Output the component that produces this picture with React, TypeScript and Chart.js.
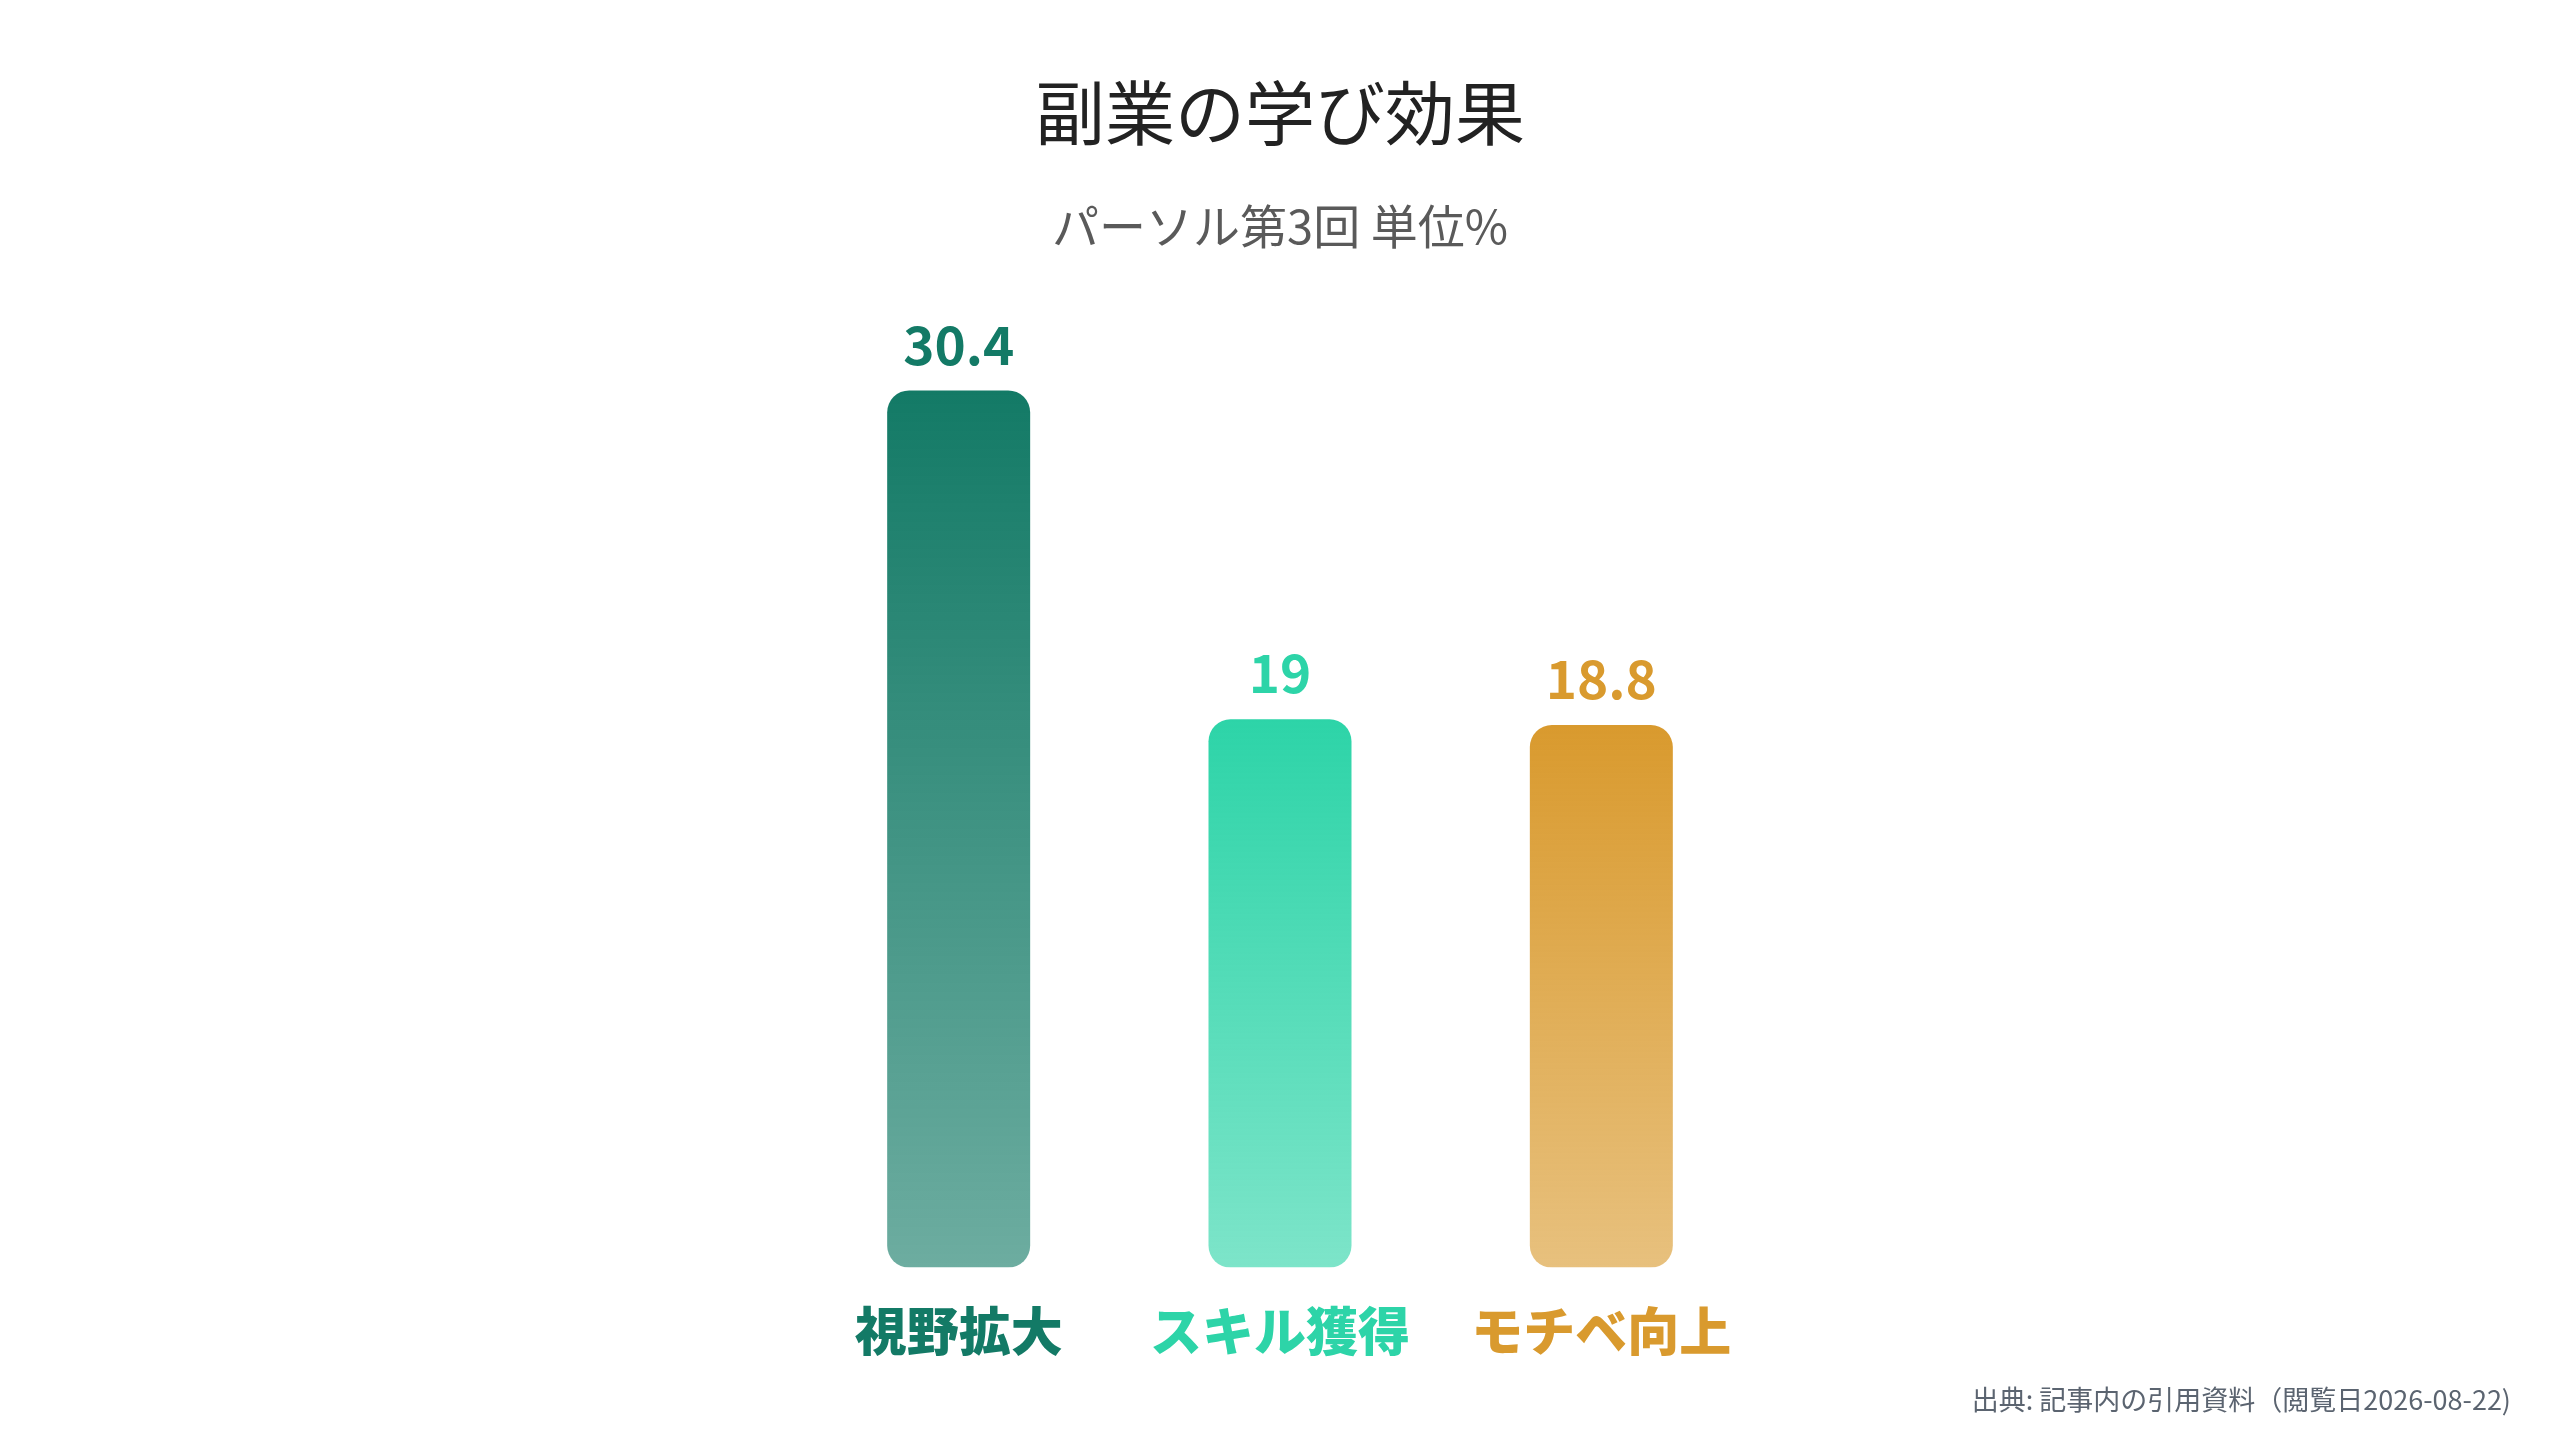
import { useEffect, useRef } from "react";
import { Chart, registerables } from "chart.js";

Chart.register(...registerables);

const categories = ["視野拡大", "スキル獲得", "モチベ向上"];
const values = [30.4, 19, 18.8];
const barColors = ["#137a66", "#2dd4a8", "#d99a2e"];
const sourceText = "出典: 記事内の引用資料（閲覧日2026-08-22)";

const FONT = '"Noto Sans CJK JP", "Noto Sans", sans-serif';

const hexToRgba = (hex: string, a: number) => {
	const n = parseInt(hex.slice(1), 16);
	return `rgba(${(n >> 16) & 255}, ${(n >> 8) & 255}, ${n & 255}, ${a})`;
};

// value labels above bars + source note bottom right
const labelsPlugin = {
	id: "valueLabels",
	afterDatasetsDraw(chart) {
		const { ctx } = chart;
		const meta = chart.getDatasetMeta(0);
		ctx.save();
		ctx.font = `bold 53px ${FONT}`;
		ctx.textAlign = "center";
		ctx.textBaseline = "middle";
		meta.data.forEach((bar, i) => {
			ctx.fillStyle = barColors[i];
			ctx.fillText(String(values[i]), bar.x, bar.y - 46);
		});
		ctx.restore();
	},
	afterDraw(chart) {
		const { ctx } = chart;
		ctx.save();
		ctx.font = `27px ${FONT}`;
		ctx.fillStyle = "#5b6470";
		ctx.textAlign = "right";
		ctx.textBaseline = "middle";
		ctx.fillText(sourceText, chart.width - 49, 1400);
		ctx.restore();
	},
};

const App = (): JSX.Element => {
	const chartRef = useRef<HTMLCanvasElement | null>(null);

	useEffect(() => {
		const ctx2d = chartRef.current.getContext("2d");
		const chart = new Chart(ctx2d, {
			type: "bar",
			data: {
				labels: categories,
				datasets: [
					{
						data: values,
						backgroundColor: (c) => {
							const chart = c.chart;
							const area = chart.chartArea;
							const color = barColors[c.dataIndex] || barColors[0];
							if (!area || c.raw === undefined) return color;
							const y = chart.scales.y;
							const top = y.getPixelForValue(c.raw as number);
							const bottom = y.getPixelForValue(0);
							const g = chart.ctx.createLinearGradient(0, top, 0, bottom);
							g.addColorStop(0, hexToRgba(color, 1));
							g.addColorStop(1, hexToRgba(color, 0.62));
							return g;
						},
						borderRadius: 22,
						borderSkipped: false,
						borderWidth: 0,
						barPercentage: 0.445,
						categoryPercentage: 1,
					},
				],
			},
			options: {
				responsive: true,
				maintainAspectRatio: false,
				animation: false,
				layout: {
					padding: { left: 798, right: 798, top: 0, bottom: 54 },
				},
				plugins: {
					legend: { display: false },
					tooltip: { enabled: false },
					title: {
						display: true,
						text: "副業の学び効果",
						color: "#222222",
						font: { family: FONT, size: 70, weight: "normal", lineHeight: 1.2 },
						padding: { top: 71, bottom: 43 },
					},
					subtitle: {
						display: true,
						text: "パーソル第3回 単位%",
						color: "#5a5a5a",
						font: { family: FONT, size: 47, weight: "normal", lineHeight: 1.2 },
						padding: { top: 0, bottom: 35 },
					},
				},
				scales: {
					x: {
						grid: { display: false },
						border: { display: false },
						ticks: {
							color: barColors,
							padding: 24,
							font: { family: FONT, size: 52, weight: "900" },
						},
					},
					y: {
						display: false,
						min: 0,
						max: 33.9,
					},
				},
			},
			plugins: [labelsPlugin],
		});

		return () => {
			chart.destroy();
		};
	}, []);

	return (
		<div style={{ position: "fixed", left: 0, top: 0, width: "2560px", height: "1440px", background: "#ffffff" }}>
			<canvas ref={chartRef} />
		</div>
	);
};

export default App;
